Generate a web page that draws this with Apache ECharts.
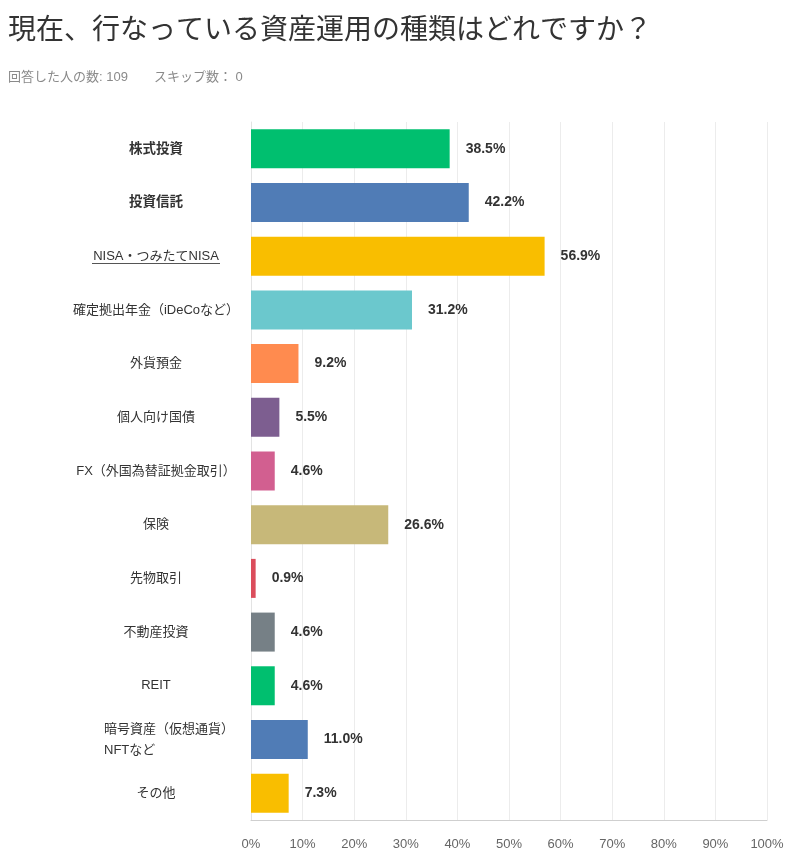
<!DOCTYPE html>
<html>
<head>
<meta charset="utf-8">
<script src="https://cdn.jsdelivr.net/npm/echarts@6/dist/echarts.min.js"></script>
<style>
html,body{margin:0;padding:0;background:#fff;}
#chart{width:800px;height:851px;}
</style>
</head>
<body>
<div id="chart"></div>
<script>
const categories = [
  '株式投資',
  '投資信託',
  'NISA・つみたてNISA',
  '確定拠出年金（iDeCoなど）',
  '外貨預金',
  '個人向け国債',
  'FX（外国為替証拠金取引）',
  '保険',
  '先物取引',
  '不動産投資',
  'REIT',
  '暗号資産（仮想通貨）\nNFTなど',
  'その他'
];
const values = [38.5, 42.2, 56.9, 31.2, 9.2, 5.5, 4.6, 26.6, 0.9, 4.6, 4.6, 11.0, 7.3];
const barColors = ['#00BF6F', '#507CB6', '#F9BE00', '#6BC8CD', '#FF8B4F', '#7D5E90', '#D25F90', '#C7B879', '#DB4D5C', '#768086', '#00BF6F', '#507CB6', '#F9BE00'];
const boldCategories = ['株式投資', '投資信託'];
const xTicks = [0, 10, 20, 30, 40, 50, 60, 70, 80, 90, 100];

const FONT = 'Helvetica, Arial, "Liberation Sans", "Noto Sans CJK JP", sans-serif';

const chart = echarts.init(document.getElementById('chart'));
chart.setOption({
  backgroundColor: '#fff',
  animation: false,
  title: {
    text: '現在、行なっている資産運用の種類はどれですか？',
    subtext: '回答した人の数: 109　　スキップ数： 0',
    left: 3,
    top: 12,
    itemGap: 26,
    textStyle: { fontFamily: FONT, fontSize: 28, fontWeight: 'normal', color: '#333' },
    subtextStyle: { fontFamily: FONT, fontSize: 13, color: '#8a8a8a' }
  },
  grid: { left: 251, right: 33, top: 122, bottom: 29, containLabel: false },
  xAxis: {
    type: 'value',
    min: xTicks[0],
    max: xTicks[xTicks.length - 1],
    interval: 10,
    axisLine: { show: true, lineStyle: { color: '#cfcfcf' } },
    axisTick: { show: false },
    splitLine: { show: true, lineStyle: { color: '#ececec', width: 1 } },
    axisLabel: {
      formatter: v => v + '%',
      color: '#666',
      fontFamily: FONT,
      fontSize: 13,
      margin: 18
    }
  },
  yAxis: {
    type: 'category',
    data: categories,
    inverse: true,
    axisLine: { show: true, lineStyle: { color: '#e3e3e3' } },
    axisTick: { show: false },
    axisLabel: {
      align: 'center',
      margin: 95,
      color: '#333',
      fontFamily: FONT,
      fontSize: 13,
      lineHeight: 21,
      formatter: v => {
        if (boldCategories.includes(v)) return '{b|' + v + '}';
        if (v.indexOf('\n') >= 0) return v.split('\n').map(s => '{l|' + s + '}').join('\n');
        return v;
      },
      rich: {
        b: { fontWeight: 'bold', fontSize: 13.5, color: '#333', fontFamily: FONT },
        l: { align: 'left', padding: [0, 0, 0, 26], fontSize: 13, color: '#333', fontFamily: FONT, lineHeight: 21 }
      }
    }
  },
  series: [{
    type: 'bar',
    barWidth: 39,
    data: values.map((v, i) => ({ value: v, itemStyle: { color: barColors[i] } })),
    label: {
      show: true,
      position: 'right',
      distance: 16,
      formatter: p => p.value.toFixed(1) + '%',
      color: '#333',
      fontWeight: 'bold',
      fontFamily: FONT,
      fontSize: 14
    }
  }],
  graphic: [{
    type: 'line',
    shape: { x1: 92, y1: 263.5, x2: 220, y2: 263.5 },
    style: { stroke: '#555', lineWidth: 1 }
  }]
});
</script>
</body>
</html>
